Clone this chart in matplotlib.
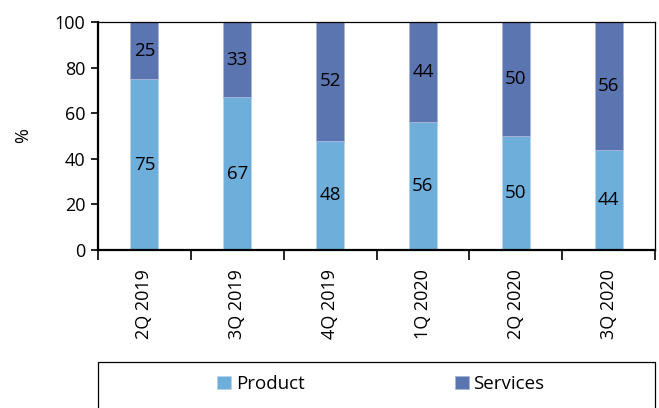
import matplotlib.pyplot as plt
from matplotlib.patches import Rectangle

quarters = ['2Q 2019', '3Q 2019', '4Q 2019', '1Q 2020', '2Q 2020', '3Q 2020']
product = [75, 67, 48, 56, 50, 44]
services = [25, 33, 52, 44, 50, 56]

c_product = '#6DAEDB'
c_services = '#5B75B1'

plt.rcParams['font.family'] = ['Open Sans', 'DejaVu Sans']
plt.rcParams['font.size'] = 13

fig = plt.figure(figsize=(6.59, 4.08), dpi=100)
ax = fig.add_axes([98/659, 1 - 250/408, 557/659, 228/408])

x = range(len(quarters))
b1 = ax.bar(x, product, width=0.3, color=c_product, edgecolor='#B9D3EC', linewidth=0.6, label='Product')
b2 = ax.bar(x, services, width=0.3, bottom=product, color=c_services, edgecolor='#A9B6D8', linewidth=0.6, label='Services')

# value labels in the middle of each segment
for i in x:
    ax.text(i, product[i] / 2, str(product[i]), ha='center', va='center', fontsize=13.5)
    ax.text(i, product[i] + services[i] / 2, str(services[i]), ha='center', va='center', fontsize=13.5)

ax.set_xlim(-0.5, len(quarters) - 0.5)
ax.set_ylim(0, 100)
ax.set_yticks(range(0, 101, 20))
ax.set_ylabel('%', labelpad=16)

# x ticks sit between categories, labels at the bar centres
ax.set_xticks([i - 0.5 for i in range(len(quarters) + 1)])
ax.set_xticklabels([])
ax.set_xticks(list(x), minor=True)
ax.set_xticklabels(quarters, minor=True, rotation=90)
ax.tick_params(axis='x', which='minor', length=0, pad=14)
ax.tick_params(axis='x', which='major', length=7, width=1.2, direction='out')
ax.tick_params(axis='y', length=5, width=1.2, direction='out', pad=4)

ax.spines['left'].set_linewidth(1.6)
ax.spines['bottom'].set_linewidth(1.6)
ax.spines['top'].set_linewidth(0.9)
ax.spines['right'].set_linewidth(0.9)

# legend box below the axes
fig.patches.append(Rectangle((98/659, -0.05), 557/659, 0.05 + 1 - 362/408,
                             transform=fig.transFigure, fill=False, edgecolor='black', linewidth=0.9))
fig.legend(handles=[b1, b2], loc='center', bbox_to_anchor=(0.578, 1 - 384/408), ncol=2,
           frameon=False, handlelength=0.75, handleheight=0.75, handletextpad=0.25,
           columnspacing=8, fontsize=13.5)

fig.savefig('out.png', dpi=100)
